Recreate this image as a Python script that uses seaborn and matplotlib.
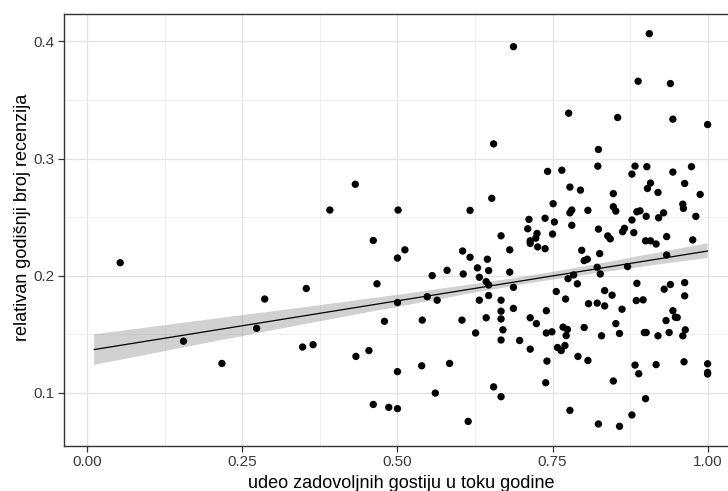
import numpy as np
import pandas as pd
import matplotlib
matplotlib.use("Agg")
import matplotlib.pyplot as plt
from matplotlib.ticker import MultipleLocator, FormatStrFormatter
import seaborn as sns

# share of satisfied guests over the year
udeo = [
    0.053, 0.155, 0.217, 0.273, 0.286, 0.347, 0.353, 0.364, 0.391, 0.432,
    0.433, 0.454, 0.461, 0.461, 0.467, 0.479, 0.486, 0.500, 0.500, 0.500,
    0.500, 0.501, 0.512, 0.539, 0.540, 0.548, 0.556, 0.561, 0.564, 0.580,
    0.584, 0.604, 0.605, 0.606, 0.614, 0.617, 0.617, 0.626, 0.629, 0.632,
    0.632, 0.643, 0.643, 0.645, 0.647, 0.647, 0.647, 0.652, 0.655, 0.655,
    0.667, 0.667, 0.667, 0.667, 0.667, 0.667, 0.670, 0.681, 0.681, 0.687,
    0.687, 0.687, 0.697, 0.710, 0.712, 0.714, 0.714, 0.714, 0.714, 0.723,
    0.724, 0.725, 0.726, 0.738, 0.738, 0.740, 0.740, 0.741, 0.739, 0.742,
    0.749, 0.750, 0.751, 0.753, 0.756, 0.758, 0.764, 0.765, 0.767, 0.770,
    0.771, 0.772, 0.774, 0.775, 0.776, 0.778, 0.778, 0.778, 0.781, 0.781,
    0.784, 0.790, 0.791, 0.795, 0.797, 0.801, 0.801, 0.806, 0.807, 0.807,
    0.808, 0.822, 0.822, 0.823, 0.824, 0.824, 0.824, 0.826, 0.827, 0.829,
    0.834, 0.834, 0.839, 0.843, 0.846, 0.848, 0.848, 0.852, 0.848, 0.852,
    0.855, 0.858, 0.858, 0.862, 0.863, 0.866, 0.871, 0.878, 0.878, 0.878,
    0.881, 0.883, 0.883, 0.885, 0.886, 0.886, 0.888, 0.889, 0.891, 0.896,
    0.898, 0.900, 0.900, 0.901, 0.901, 0.902, 0.903, 0.906, 0.908, 0.908,
    0.917, 0.917, 0.920, 0.920, 0.921, 0.929, 0.930, 0.933, 0.934, 0.934,
    0.938, 0.940, 0.940, 0.944, 0.944, 0.944, 0.948, 0.951, 0.960, 0.961,
    0.960, 0.962, 0.963, 0.963, 0.963, 0.964, 0.974, 0.976, 0.981, 0.988,
    1.000, 1.000, 1.000, 1.000,
]

# relative yearly number of reviews
recenzije = [
    0.211, 0.144, 0.125, 0.155, 0.180, 0.139, 0.189, 0.141, 0.256, 0.278,
    0.131, 0.136, 0.230, 0.090, 0.193, 0.161, 0.0875, 0.0864, 0.118, 0.177,
    0.215, 0.256, 0.222, 0.123, 0.162, 0.182, 0.200, 0.0997, 0.179, 0.2045,
    0.125, 0.162, 0.221, 0.2014, 0.0755, 0.2557, 0.2157, 0.151, 0.2066, 0.1986,
    0.179, 0.1949, 0.164, 0.214, 0.2043, 0.192, 0.183, 0.266, 0.3125, 0.105,
    0.234, 0.179, 0.1696, 0.163, 0.0966, 0.145, 0.1537, 0.222, 0.203, 0.3955,
    0.190, 0.172, 0.1446, 0.240, 0.248, 0.2297, 0.2275, 0.164, 0.1372, 0.232,
    0.159, 0.236, 0.2245, 0.249, 0.223, 0.170, 0.151, 0.127, 0.1085, 0.289,
    0.152, 0.2355, 0.2614, 0.2458, 0.1864, 0.1386, 0.136, 0.290, 0.156, 0.1403,
    0.180, 0.1488, 0.154, 0.1974, 0.3387, 0.2756, 0.2536, 0.0849, 0.256, 0.243,
    0.2006, 0.193, 0.131, 0.273, 0.2216, 0.2128, 0.1557, 0.214, 0.2557, 0.1275,
    0.176, 0.1765, 0.2071, 0.2935, 0.3077, 0.2397, 0.0733, 0.2188, 0.2014, 0.1486,
    0.1872, 0.1741, 0.2339, 0.2314, 0.1833, 0.270, 0.2588, 0.2551, 0.110, 0.159,
    0.335, 0.1506, 0.0713, 0.1713, 0.2375, 0.2404, 0.2077, 0.2867, 0.2475, 0.081,
    0.2367, 0.2935, 0.1236, 0.1787, 0.2545, 0.1934, 0.366, 0.1162, 0.2553, 0.1793,
    0.1514, 0.2297, 0.0949, 0.2506, 0.1514, 0.293, 0.2744, 0.4066, 0.279, 0.2297,
    0.227, 0.124, 0.271, 0.1486, 0.2494, 0.2536, 0.1884, 0.1616, 0.2333, 0.2176,
    0.1514, 0.364, 0.1924, 0.3336, 0.2884, 0.170, 0.1645, 0.1642, 0.261, 0.2574,
    0.1486, 0.1264, 0.2787, 0.194, 0.1827, 0.1537, 0.293, 0.2305, 0.2506, 0.2693,
    0.329, 0.1247, 0.1173, 0.116,
]

x_ticks = [0.00, 0.25, 0.50, 0.75, 1.00]
y_ticks = [0.1, 0.2, 0.3, 0.4]
x_title = "udeo zadovoljnih gostiju u toku godine"
y_title = "relativan godišnji broj recenzija"

df = pd.DataFrame({"udeo": udeo, "recenzije": recenzije})

sns.set_theme(style="white")
plt.rcParams["font.family"] = ["Liberation Sans", "DejaVu Sans"]

fig = plt.figure(figsize=(7.28, 4.91), dpi=100)
ax = fig.add_axes([64 / 728, 1 - 446 / 491, 674 / 728, 432 / 491])

# fitted line with a confidence band over the observed range of the predictor
ax.set_xlim(0.011, 1.0)
sns.regplot(data=df, x="udeo", y="recenzije", ax=ax, scatter=False,
            truncate=False, ci=55, n_boot=2000, seed=3,
            line_kws={"color": "black", "lw": 0.9, "zorder": 4})
for coll in ax.collections:
    coll.set_facecolor("#999999")
    coll.set_alpha(0.45)
    coll.set_edgecolor("none")
    coll.set_zorder(3)

sns.scatterplot(data=df, x="udeo", y="recenzije", ax=ax, color="black",
                s=28, edgecolor="none", zorder=5)

ax.set_xlim(-0.0376, 1.049)
ax.set_ylim(0.0545, 0.4234)

ax.set_xticks(x_ticks)
ax.set_yticks(y_ticks)
ax.xaxis.set_major_formatter(FormatStrFormatter("%.2f"))
ax.yaxis.set_major_formatter(FormatStrFormatter("%.1f"))
ax.xaxis.set_minor_locator(MultipleLocator(0.125))
ax.yaxis.set_minor_locator(MultipleLocator(0.05))

ax.grid(True, which="major", color="#E3E3E3", lw=0.9)
ax.grid(True, which="minor", color="#EDEDED", lw=0.6)
ax.set_axisbelow(True)

for sp in ax.spines.values():
    sp.set_color("#333333")
    sp.set_linewidth(1.0)

ax.tick_params(axis="both", which="major", length=4, width=0.9,
               color="#333333", labelcolor="#3A3A3A", labelsize=11,
               bottom=True, left=True)
ax.tick_params(axis="x", which="major", pad=2.5)
ax.tick_params(axis="y", which="major", pad=3)
ax.tick_params(axis="both", which="minor", length=0)

ax.set_xlabel(x_title, fontsize=13, color="black")
ax.set_ylabel(y_title, fontsize=13, color="black")
ax.xaxis.set_label_coords(0.5, -0.066)
ax.yaxis.set_label_coords(-0.049, 0.53)

fig.savefig("out.png", dpi=100)
